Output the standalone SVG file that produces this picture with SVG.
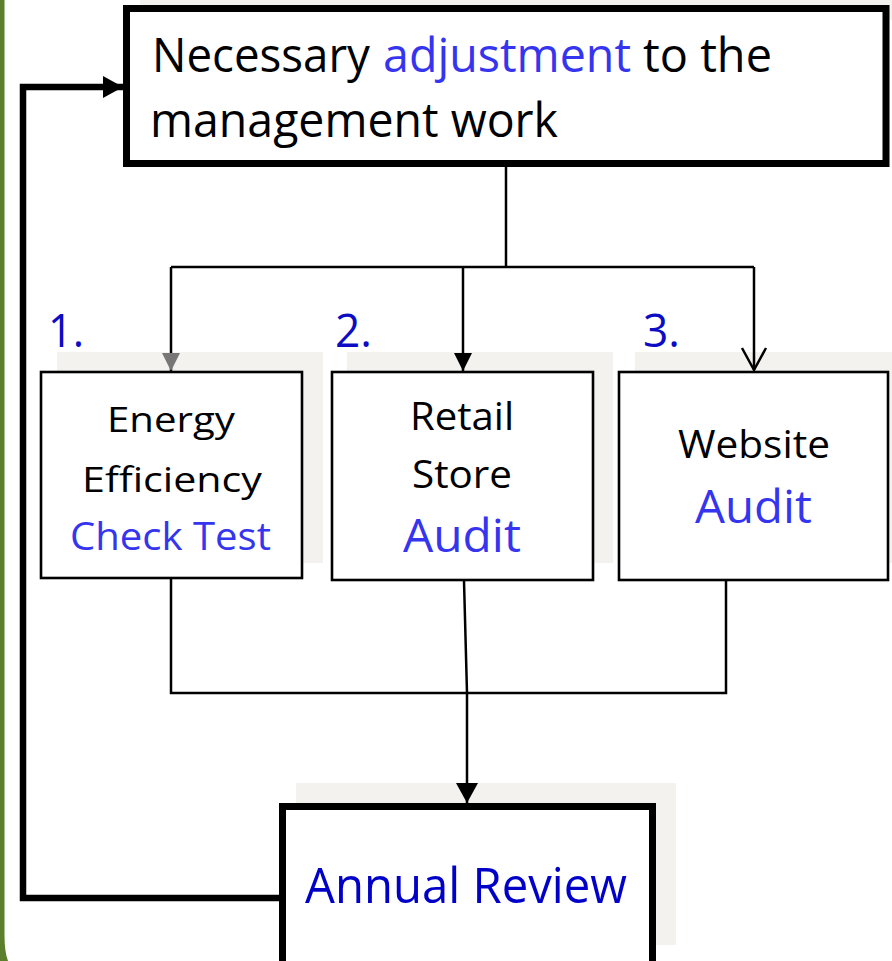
<svg xmlns="http://www.w3.org/2000/svg" width="892" height="961" viewBox="0 0 892 961">
<defs>
<style>
text{font-family:"Open Sans","Noto Sans","Liberation Sans",sans-serif;}
.blk{fill:#000;}
.lb{fill:#3535f0;}
.db{fill:#0c0cc4;}
.shadow{fill:#f3f2ee;}
.box{fill:#fff;stroke:#000;stroke-width:2.6;}
.bigbox{fill:#fff;stroke:#000;stroke-width:7;}
.conn{fill:none;stroke:#000;stroke-width:2.5;}
.fb{fill:none;stroke:#000;stroke-width:6.5;}
</style>
<marker id="aBlack" viewBox="0 0 18 18" refX="18" refY="9" markerWidth="18" markerHeight="18" markerUnits="userSpaceOnUse" orient="auto"><path d="M0,0 L18,9 L0,18 Z" fill="#000"/></marker>
<marker id="aGrey" viewBox="0 0 18 18" refX="18" refY="9" markerWidth="18" markerHeight="18" markerUnits="userSpaceOnUse" orient="auto"><path d="M0,0 L18,9 L0,18 Z" fill="#777"/></marker>
<marker id="aOpen" viewBox="0 0 26 28" refX="23" refY="14" markerWidth="26" markerHeight="28" markerUnits="userSpaceOnUse" orient="auto"><path d="M1,2 L23,14 L1,26" fill="none" stroke="#000" stroke-width="2.5"/></marker>
<marker id="aBig" viewBox="0 0 20 22" refX="20" refY="11" markerWidth="20" markerHeight="22" markerUnits="userSpaceOnUse" orient="auto"><path d="M0,0 L20,11 L0,22 Z" fill="#000"/></marker>
</defs>
<rect width="892" height="961" fill="#fff"/>
<path d="M0,0 L4.5,0 L4.5,935 Q4.5,952 8,961 L0,961 Z" fill="#5b7f2a"/>
<g id="shadows">
<rect class="shadow" x="140" y="0" width="752" height="20"/>
<rect class="shadow" x="57" y="352" width="266" height="211"/>
<rect class="shadow" x="347" y="352" width="266" height="211"/>
<rect class="shadow" x="635" y="352" width="257" height="211"/>
<rect class="shadow" x="296" y="783" width="380" height="162"/>
</g>
<g id="connectors">
<path class="conn" d="M506,167 V267"/>
<path class="conn" d="M171,267 H754"/>
<path class="conn" d="M171,267 V371" marker-end="url(#aGrey)"/>
<path class="conn" d="M463,267 V371" marker-end="url(#aBlack)"/>
<path class="conn" d="M754,267 V370" marker-end="url(#aOpen)"/>
<path class="conn" d="M171,579 V693 H726 V581"/>
<path class="conn" d="M464,581 L467,693 V803" marker-end="url(#aBig)"/>
<path class="fb" d="M282,898 H23 V87 H123" marker-end="url(#aBig)"/>
</g>
<g id="node-adjust">
<rect class="bigbox" x="126.5" y="8.5" width="759.5" height="155"/>
<text x="152" y="72" font-size="47" class="blk" textLength="218" lengthAdjust="spacingAndGlyphs">Necessary</text>
<text x="383" y="72" font-size="47" class="lb" textLength="248" lengthAdjust="spacingAndGlyphs">adjustment</text>
<text x="643" y="72" font-size="47" class="blk" textLength="129" lengthAdjust="spacingAndGlyphs">to the</text>
<text x="150" y="137" font-size="47" class="blk" textLength="408" lengthAdjust="spacingAndGlyphs">management work</text>
</g>
<g id="node-energy">
<text x="48" y="347" font-size="46" class="db" textLength="36" lengthAdjust="spacingAndGlyphs">1.</text>
<rect class="box" x="41" y="372" width="261" height="206"/>
<text x="107" y="432" font-size="35" class="blk" textLength="128" lengthAdjust="spacingAndGlyphs">Energy</text>
<text x="82" y="492" font-size="35" class="blk" textLength="180" lengthAdjust="spacingAndGlyphs">Efficiency</text>
<text x="70" y="550" font-size="39" class="lb" textLength="201" lengthAdjust="spacingAndGlyphs">Check Test</text>
</g>
<g id="node-retail">
<text x="335" y="347" font-size="46" class="db" textLength="37" lengthAdjust="spacingAndGlyphs">2.</text>
<rect class="box" x="332" y="372" width="261" height="208"/>
<text x="410" y="430" font-size="38" class="blk" textLength="104" lengthAdjust="spacingAndGlyphs">Retail</text>
<text x="412" y="488" font-size="38" class="blk" textLength="100" lengthAdjust="spacingAndGlyphs">Store</text>
<text x="403" y="552" font-size="46" class="lb" textLength="118" lengthAdjust="spacingAndGlyphs">Audit</text>
</g>
<g id="node-website">
<text x="643" y="347" font-size="46" class="db" textLength="37" lengthAdjust="spacingAndGlyphs">3.</text>
<rect class="box" x="619" y="372" width="269" height="208"/>
<text x="678" y="458" font-size="39" class="blk" textLength="152" lengthAdjust="spacingAndGlyphs">Website</text>
<text x="695" y="523" font-size="46" class="lb" textLength="117" lengthAdjust="spacingAndGlyphs">Audit</text>
</g>
<g id="node-review">
<rect class="bigbox" x="282.5" y="806.5" width="370" height="170"/>
<text x="305" y="903" font-size="50" fill="#0000c8" textLength="322" lengthAdjust="spacingAndGlyphs">Annual Review</text>
</g>
</svg>
